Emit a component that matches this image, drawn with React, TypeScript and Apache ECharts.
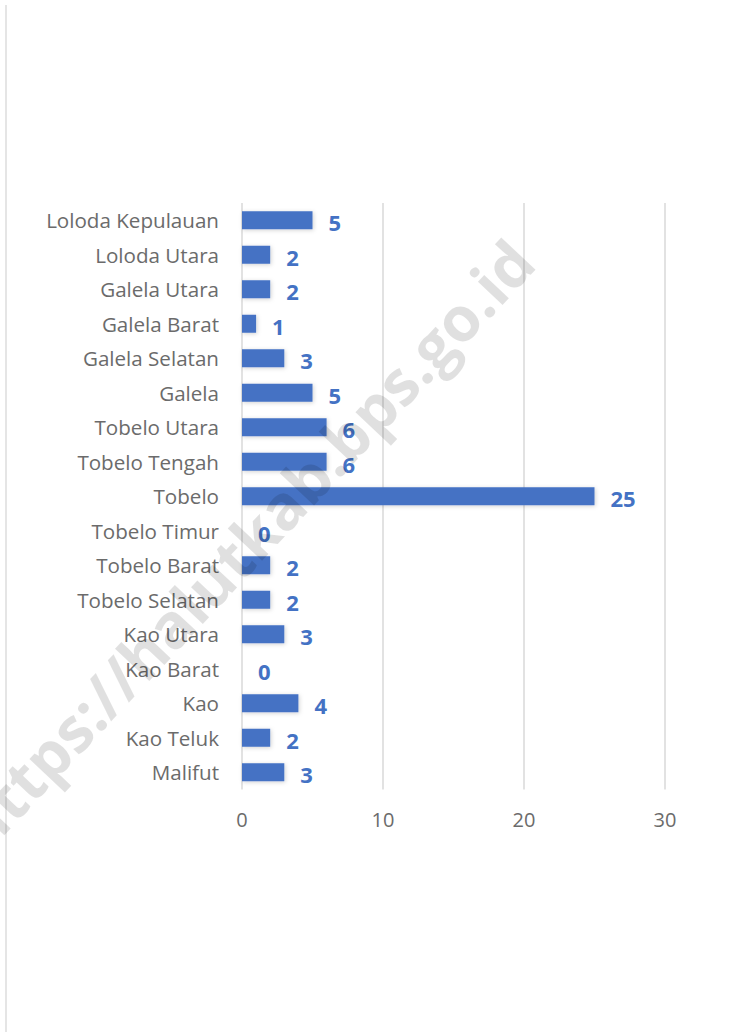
import React, { useEffect, useRef } from "react";
import * as echarts from "echarts";

const categories = [
  "Loloda Kepulauan",
  "Loloda Utara",
  "Galela Utara",
  "Galela Barat",
  "Galela Selatan",
  "Galela",
  "Tobelo Utara",
  "Tobelo Tengah",
  "Tobelo",
  "Tobelo Timur",
  "Tobelo Barat",
  "Tobelo Selatan",
  "Kao Utara",
  "Kao Barat",
  "Kao",
  "Kao Teluk",
  "Malifut",
];
const values = [5, 2, 2, 1, 3, 5, 6, 6, 25, 0, 2, 2, 3, 0, 4, 2, 3];
const xTicks = [0, 10, 20, 30];
const watermark = "https://halutkab.bps.go.id";

export default function App() {
  const ref = useRef<HTMLDivElement>(null);
  useEffect(() => {
    if (!ref.current) return;
    const chart = echarts.init(ref.current, null, { renderer: "svg" });
    chart.setOption({
      animation: false,
      backgroundColor: "#ffffff",
      grid: { left: 242, right: 89, top: 203, bottom: 242.5, containLabel: false },
      xAxis: {
        type: "value",
        min: xTicks[0],
        max: xTicks[xTicks.length - 1],
        interval: 10,
        axisLine: { show: false },
        axisTick: { show: false },
        splitLine: { show: true, lineStyle: { color: "#d9d9d9", width: 1.5 } },
        axisLabel: {
          margin: 20,
          fontSize: 20,
          color: "#6b6b6b",
          fontFamily: "Open Sans",
        },
      },
      yAxis: {
        type: "category",
        data: categories,
        inverse: true,
        axisLine: { show: false },
        axisTick: { show: false },
        axisLabel: {
          margin: 23,
          fontSize: 20.6,
          color: "#6b6b6b",
          fontFamily: "Open Sans",
        },
      },
      series: [
        {
          type: "bar",
          data: values,
          barWidth: 18,
          itemStyle: {
            color: "#4472C4",
            shadowBlur: 4,
            shadowColor: "rgba(0,0,0,0.18)",
            shadowOffsetX: 1,
            shadowOffsetY: 1,
          },
          label: {
            show: true,
            position: "right",
            distance: 16,
            offset: [0, 2],
            fontSize: 22,
            fontWeight: "bold",
            color: "#4472C4",
            fontFamily: "Open Sans",
          },
        },
      ],
      graphic: [
        {
          type: "line",
          shape: { x1: 6, y1: 5, x2: 6, y2: 1032 },
          style: { stroke: "#dcdcdc", lineWidth: 1.5 },
          z: 1,
        },
        {
          type: "text",
          x: 245,
          y: 544,
          rotation: (46.8 * Math.PI) / 180,
          z: 100,
          style: {
            text: watermark,
            fontSize: 62,
            fontWeight: "bold",
            fontFamily: "Open Sans",
            fill: "rgba(0,0,0,0.12)",
            textAlign: "center",
            textVerticalAlign: "middle",
          },
        },
      ],
    });
    return () => chart.dispose();
  }, []);
  return (
    <div
      ref={ref}
      style={{ position: "fixed", left: 0, top: 0, width: 754, height: 1032 }}
    />
  );
}
